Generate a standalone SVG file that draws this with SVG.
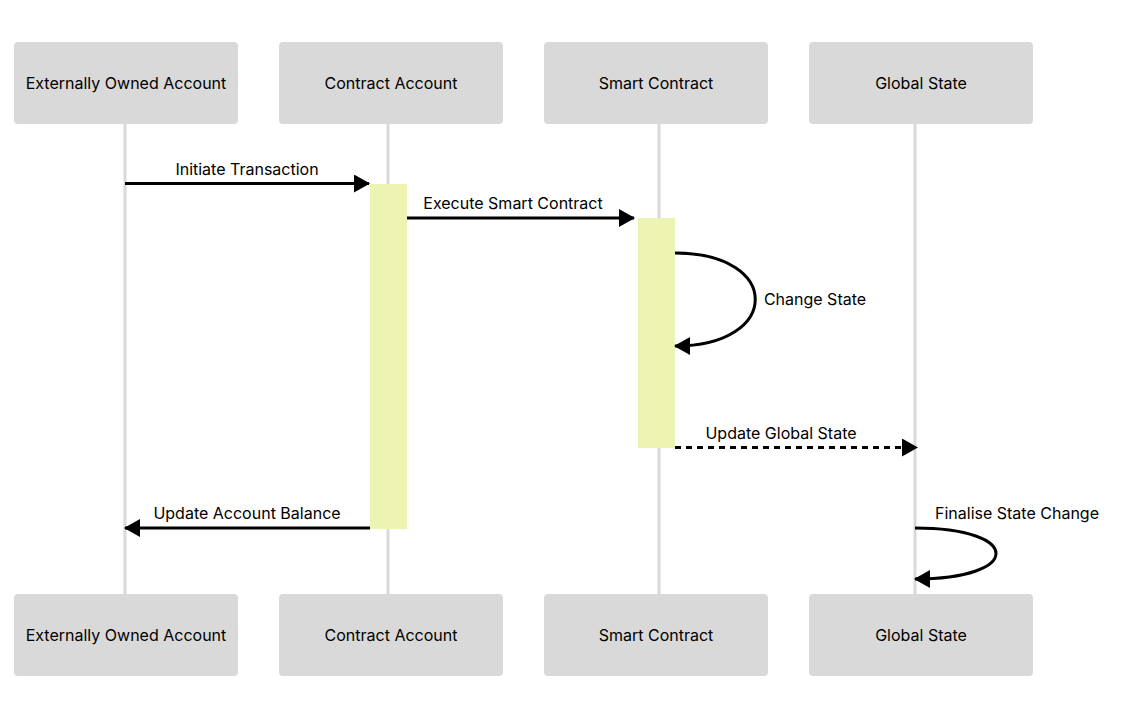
<svg xmlns="http://www.w3.org/2000/svg" width="1140" height="717" viewBox="0 0 1140 717">
<defs>
<style>
.box{fill:#d9d9d9}
.t{font-family:Inter,"Noto Sans",sans-serif;font-size:16px;fill:#000;text-anchor:middle;dominant-baseline:central}
.life{stroke:#d9d9d9;stroke-width:3}
.act{fill:#edf3b0}
.msg{stroke:#000;stroke-width:3;fill:none}
.dash{stroke-dasharray:6 5}
</style>
<marker id="ah" viewBox="0 0 16 18" refX="15" refY="9" markerWidth="16" markerHeight="18" markerUnits="userSpaceOnUse" orient="auto">
<path d="M0,0 L16,9 L0,18 Z" fill="#000"/>
</marker>
</defs>
<rect width="1140" height="717" fill="#fff"/>
<g id="lifelines">
<line class="life" x1="125" y1="124" x2="125" y2="594"/>
<line class="life" x1="388" y1="124" x2="388" y2="594"/>
<line class="life" x1="659" y1="124" x2="659" y2="594"/>
<line class="life" x1="915" y1="124" x2="915" y2="594"/>
</g>
<g id="activations">
<rect class="act" x="370" y="184" width="37" height="345"/>
<rect class="act" x="638" y="218" width="37" height="230"/>
</g>
<g id="eoa-top"><rect class="box" x="14" y="42" width="224" height="82" rx="4"/><text class="t" x="126" y="83">Externally Owned Account</text></g>
<g id="ca-top"><rect class="box" x="279" y="42" width="224" height="82" rx="4"/><text class="t" x="391" y="83">Contract Account</text></g>
<g id="sc-top"><rect class="box" x="544" y="42" width="224" height="82" rx="4"/><text class="t" x="656" y="83">Smart Contract</text></g>
<g id="gs-top"><rect class="box" x="809" y="42" width="224" height="82" rx="4"/><text class="t" x="921" y="83">Global State</text></g>
<g id="eoa-bottom"><rect class="box" x="14" y="594" width="224" height="82" rx="4"/><text class="t" x="126" y="635">Externally Owned Account</text></g>
<g id="ca-bottom"><rect class="box" x="279" y="594" width="224" height="82" rx="4"/><text class="t" x="391" y="635">Contract Account</text></g>
<g id="sc-bottom"><rect class="box" x="544" y="594" width="224" height="82" rx="4"/><text class="t" x="656" y="635">Smart Contract</text></g>
<g id="gs-bottom"><rect class="box" x="809" y="594" width="224" height="82" rx="4"/><text class="t" x="921" y="635">Global State</text></g>
<g id="connectors">
<line class="msg" x1="125" y1="183.5" x2="369" y2="183.5" marker-end="url(#ah)"/>
<text class="t" x="247" y="169">Initiate Transaction</text>
<line class="msg" x1="407" y1="218" x2="634" y2="218" marker-end="url(#ah)"/>
<text class="t" x="513" y="203">Execute Smart Contract</text>
<path class="msg" d="M675,253 C782,253 782,346 675,346" marker-end="url(#ah)"/>
<text class="t" x="815" y="299">Change State</text>
<line class="msg dash" x1="675" y1="447.5" x2="917" y2="447.5" marker-end="url(#ah)"/>
<text class="t" x="781" y="433">Update Global State</text>
<line class="msg" x1="370" y1="528" x2="125" y2="528" marker-end="url(#ah)"/>
<text class="t" x="247" y="513">Update Account Balance</text>
<path class="msg" d="M915,528 C1023,528 1023,579 915,579" marker-end="url(#ah)"/>
<text class="t" x="1017" y="513">Finalise State Change</text>
</g>
</svg>
